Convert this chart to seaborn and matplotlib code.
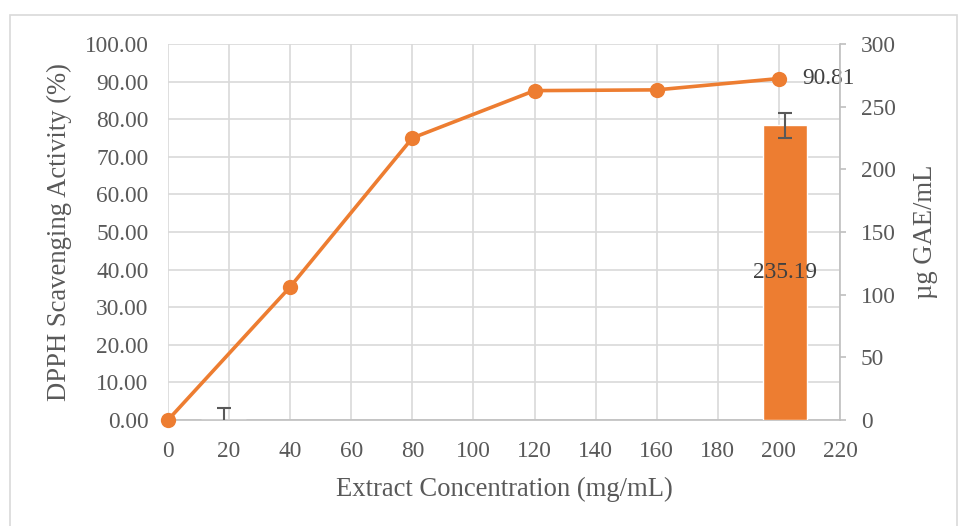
import matplotlib
matplotlib.use("Agg")
import matplotlib.pyplot as plt
import seaborn as sns
import pandas as pd
from matplotlib.patches import Rectangle

# data
conc = [0, 40, 80, 120, 160, 200]
dpph = [0.0, 35.4, 75.0, 87.6, 87.8, 90.81]
bar_x = [18.3, 202.0]
bar_vals = [0.0, 235.19]
bar_err = [9.6, 10.0]
x_ticks = list(range(0, 221, 20))
left_ticks = list(range(0, 101, 10))
right_ticks = list(range(0, 301, 50))

ORANGE = "#ED7D31"
TXT = "#595959"
GRID = "#D9D9D9"

sns.set_style("white")
plt.rcParams["font.family"] = ["Liberation Serif", "DejaVu Serif"]
plt.rcParams["text.color"] = TXT
FS = 16.8
LFS = 19.2

fig = plt.figure(figsize=(9.58, 5.26), dpi=100)
W, H = 958, 526
ax = fig.add_axes([168 / W, (H - 420) / H, (840 - 168) / W, (420 - 44) / H])
ax2 = ax.twinx()

# outer border
fig.patches.append(Rectangle((9.5 / W, -0.01), (957 - 9.5) / W, (H - 14.5) / H + 0.01,
                             transform=fig.transFigure, fill=False, edgecolor="#D9D9D9",
                             linewidth=1.2))

df = pd.DataFrame({"conc": conc, "dpph": dpph})
sns.lineplot(data=df, x="conc", y="dpph", ax=ax, color=ORANGE, linewidth=2.6,
             marker="o", markersize=11, markeredgewidth=0, clip_on=False, zorder=5)

ax.set_xlim(0, 220)
ax.set_ylim(0, 100)
ax.set_xticks(x_ticks)
ax.set_yticks(left_ticks)
ax.set_yticklabels([f"{v:.2f}" for v in left_ticks])
ax.grid(True, color=GRID, linewidth=1.2)
ax.set_axisbelow(True)
ax.tick_params(axis="y", length=0, labelsize=FS, colors=TXT, pad=14)
ax.tick_params(axis="x", length=0, labelsize=FS, colors=TXT, pad=15)
ax.set_xlabel("Extract Concentration (mg/mL)", fontsize=LFS, color=TXT, labelpad=11)
ax.set_ylabel("DPPH Scavenging Activity (%)", fontsize=LFS, color=TXT, labelpad=9)
for s in ["top", "right", "left"]:
    ax.spines[s].set_visible(False)
ax.spines["bottom"].set_color("#BFBFBF")
ax.spines["bottom"].set_linewidth(1.2)

ax.annotate("90.81", (200, 90.81), xytext=(17, 0), textcoords="offset points",
            ha="left", va="center", fontsize=FS, color="#404040")

# bars on secondary axis
ax2.bar(bar_x, bar_vals, width=14.7, color=ORANGE, zorder=3)
ax2.errorbar(bar_x, bar_vals, yerr=bar_err, fmt="none", ecolor="#595959",
             elinewidth=1.5, capsize=5, capthick=1.5, zorder=4)
ax2.set_ylim(0, 300)
ax2.set_yticks(right_ticks)
ax2.tick_params(axis="y", direction="out", length=4, width=1.2, color="#BFBFBF",
                labelsize=FS, colors=TXT, pad=11)
ax2.tick_params(axis="y", color="#BFBFBF")
for s in ["top", "left", "bottom"]:
    ax2.spines[s].set_visible(False)
ax2.spines["right"].set_color("#BFBFBF")
ax2.spines["right"].set_linewidth(1.2)
ax2.set_ylabel("µg GAE/mL", fontsize=LFS, color=TXT, labelpad=12)
ax2.text(bar_x[1], bar_vals[1] / 2, f"{bar_vals[1]:.2f}", ha="center", va="center",
         fontsize=FS, color="#404040", zorder=6)
ax2.set_xlim(0, 220)

fig.savefig("out.png", dpi=100)
